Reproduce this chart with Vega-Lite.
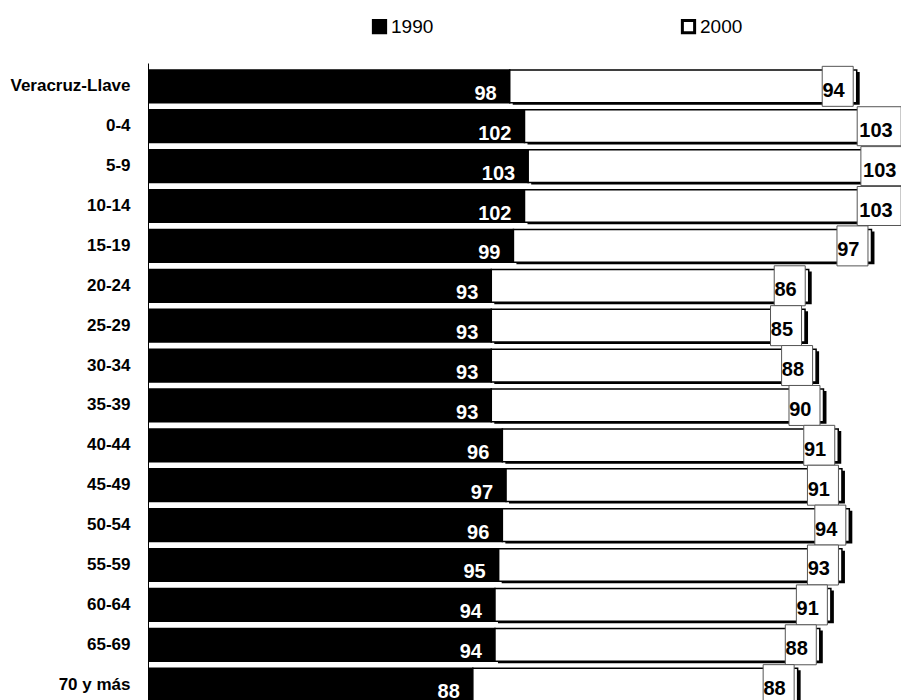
{
  "$schema": "https://vega.github.io/schema/vega-lite/v6.json",
  "width": 753,
  "height": 645,
  "autosize": {"type": "none"},
  "padding": {"left": 148, "top": 63, "right": 0, "bottom": 0},
  "background": "white",
  "config": {"view": {"stroke": null}, "font": "Liberation Sans"},
  "data": {
    "values": [
      {"grupo": "Veracruz-Llave", "year": "1990", "value": 98},
      {"grupo": "Veracruz-Llave", "year": "2000", "value": 94},
      {"grupo": "0-4", "year": "1990", "value": 102},
      {"grupo": "0-4", "year": "2000", "value": 103},
      {"grupo": "5-9", "year": "1990", "value": 103},
      {"grupo": "5-9", "year": "2000", "value": 103},
      {"grupo": "10-14", "year": "1990", "value": 102},
      {"grupo": "10-14", "year": "2000", "value": 103},
      {"grupo": "15-19", "year": "1990", "value": 99},
      {"grupo": "15-19", "year": "2000", "value": 97},
      {"grupo": "20-24", "year": "1990", "value": 93},
      {"grupo": "20-24", "year": "2000", "value": 86},
      {"grupo": "25-29", "year": "1990", "value": 93},
      {"grupo": "25-29", "year": "2000", "value": 85},
      {"grupo": "30-34", "year": "1990", "value": 93},
      {"grupo": "30-34", "year": "2000", "value": 88},
      {"grupo": "35-39", "year": "1990", "value": 93},
      {"grupo": "35-39", "year": "2000", "value": 90},
      {"grupo": "40-44", "year": "1990", "value": 96},
      {"grupo": "40-44", "year": "2000", "value": 91},
      {"grupo": "45-49", "year": "1990", "value": 97},
      {"grupo": "45-49", "year": "2000", "value": 91},
      {"grupo": "50-54", "year": "1990", "value": 96},
      {"grupo": "50-54", "year": "2000", "value": 94},
      {"grupo": "55-59", "year": "1990", "value": 95},
      {"grupo": "55-59", "year": "2000", "value": 93},
      {"grupo": "60-64", "year": "1990", "value": 94},
      {"grupo": "60-64", "year": "2000", "value": 91},
      {"grupo": "65-69", "year": "1990", "value": 94},
      {"grupo": "65-69", "year": "2000", "value": 88},
      {"grupo": "70 y más", "year": "1990", "value": 88},
      {"grupo": "70 y más", "year": "2000", "value": 88}
    ]
  },
  "transform": [
    {"stack": "value", "groupby": ["grupo"], "sort": [{"field": "year", "order": "ascending"}], "as": ["x0", "x1"]}
  ],
  "encoding": {
    "y": {
      "field": "grupo",
      "type": "nominal",
      "sort": ["Veracruz-Llave", "0-4", "5-9", "10-14", "15-19", "20-24", "25-29", "30-34", "35-39", "40-44", "45-49", "50-54", "55-59", "60-64", "65-69", "70 y más"],
      "scale": {"paddingInner": 0.18, "paddingOuter": 0.175},
      "axis": {
        "title": null,
        "labelFontSize": 17,
        "labelFontWeight": "bold",
        "labelColor": "black",
        "ticks": false,
        "labelPadding": 18,
        "domainColor": "black",
        "domainWidth": 1,
        "grid": false
      }
    }
  },
  "layer": [
    {
      "transform": [{"filter": "datum.year == '2000'"}],
      "mark": {"type": "bar", "fill": "black", "xOffset": 3, "x2Offset": 3, "yOffset": 2, "y2Offset": 2, "clip": true},
      "encoding": {
        "x": {"field": "x0", "type": "quantitative", "scale": {"domain": [0, 204], "nice": false}, "axis": null},
        "x2": {"field": "x1"}
      }
    },
    {
      "mark": {"type": "bar", "stroke": "black", "strokeWidth": 1.5, "clip": true},
      "encoding": {
        "x": {"field": "x0", "type": "quantitative", "axis": null},
        "x2": {"field": "x1"},
        "color": {
          "field": "year",
          "type": "nominal",
          "scale": {"domain": ["1990", "2000"], "range": ["black", "white"]},
          "legend": {
            "orient": "none",
            "legendX": 222,
            "legendY": -46,
            "direction": "horizontal",
            "columns": 2,
            "columnPadding": 242,
            "title": null,
            "symbolType": "square",
            "symbolSize": 150,
            "symbolStrokeColor": "black",
            "symbolStrokeWidth": 3,
            "symbolOpacity": 1,
            "labelFontSize": 19,
            "labelColor": "black",
            "labelOffset": 2,
            "padding": 0
          }
        }
      }
    },
    {
      "transform": [{"filter": "datum.year == '1990'"}],
      "mark": {"type": "text", "align": "right", "baseline": "alphabetic", "dx": -13, "dy": 13.5, "fontSize": 20, "fontWeight": "bold", "fill": "white"},
      "encoding": {
        "x": {"field": "x1", "type": "quantitative", "axis": null},
        "text": {"field": "value", "type": "quantitative"}
      }
    },
    {
      "transform": [{"filter": "datum.year == '2000' && datum.value < 100"}],
      "mark": {"type": "point", "shape": "M-1,-1.29H1V1.29H-1Z", "size": 961, "filled": true, "fill": "white", "stroke": "#555555", "strokeWidth": 1, "opacity": 1, "xOffset": -19},
      "encoding": {
        "x": {"field": "x1", "type": "quantitative", "axis": null}
      }
    },
    {
      "transform": [{"filter": "datum.year == '2000' && datum.value >= 100"}],
      "mark": {"type": "point", "shape": "M-1,-0.886H1V0.886H-1Z", "size": 1936, "filled": true, "fill": "white", "stroke": "#555555", "strokeWidth": 1, "opacity": 1, "xOffset": -25.5},
      "encoding": {
        "x": {"field": "x1", "type": "quantitative", "axis": null}
      }
    },
    {
      "transform": [{"filter": "datum.year == '2000'"}],
      "mark": {"type": "text", "align": "right", "baseline": "alphabetic", "dx": -12, "dy": 10.5, "fontSize": 20, "fontWeight": "bold", "fill": "black"},
      "encoding": {
        "x": {"field": "x1", "type": "quantitative", "axis": null},
        "text": {"field": "value", "type": "quantitative"}
      }
    }
  ]
}
